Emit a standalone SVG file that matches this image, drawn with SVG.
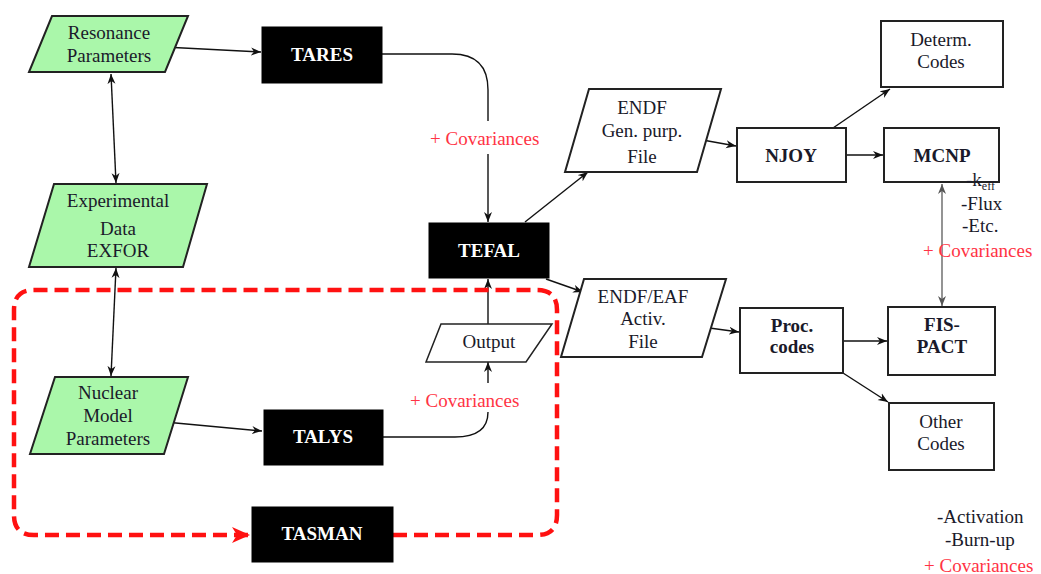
<svg xmlns="http://www.w3.org/2000/svg" width="1041" height="574" viewBox="0 0 1041 574">
<style>
text{font-family:"Liberation Serif","Times New Roman",serif;font-size:19px;fill:#1a1a2a;text-anchor:middle}
.b{font-weight:bold}
.w{fill:#fff;font-weight:bold}
.r{fill:#ff3344;text-anchor:start}
.s{text-anchor:start}
.g{fill:#aaf7aa;stroke:#222;stroke-width:2}
.p{fill:#fff;stroke:#222;stroke-width:2}
.k{fill:#000;stroke:#000}
.c{fill:none;stroke:#111;stroke-width:1.4}
</style>
<defs>
<marker id="a" markerUnits="userSpaceOnUse" markerWidth="11" markerHeight="9" refX="10" refY="4.5" orient="auto-start-reverse">
<path d="M0,0.5 L10,4.5 L0,8.5 L3,4.5 z" fill="#111"/>
</marker>
<marker id="ag" markerUnits="userSpaceOnUse" markerWidth="11" markerHeight="9" refX="10" refY="4.5" orient="auto-start-reverse">
<path d="M0,0.5 L10,4.5 L0,8.5 L3,4.5 z" fill="#555"/>
</marker>
<marker id="ar" markerUnits="userSpaceOnUse" markerWidth="20" markerHeight="16" refX="18" refY="8" orient="auto">
<path d="M0,0 L18,8 L0,16 L5,8 z" fill="#ff1111"/>
</marker>
</defs>

<g id="connectors">
<path class="c" d="M164,47 L261,52" marker-end="url(#a)"/>
<path class="c" d="M382,54 H452 Q488,54 488,90 V121"/>
<path class="c" d="M488,154 V222" marker-end="url(#a)"/>
<path class="c" d="M111,74 L116,183" marker-start="url(#a)" marker-end="url(#a)"/>
<path class="c" d="M116,268 L111,376" marker-start="url(#a)" marker-end="url(#a)"/>
<path class="c" d="M165,422 L262,431" marker-end="url(#a)"/>
<path class="c" d="M383,437 H455 Q488,437 488,412"/>
<path class="c" d="M488,383 V362" marker-end="url(#a)"/>
<path class="c" d="M488,324 V279" marker-end="url(#a)"/>
<path class="c" d="M525,222 L588,172" marker-end="url(#a)"/>
<path class="c" d="M546,279 L583,292" marker-end="url(#a)"/>
<path class="c" d="M697,139 L736,146" marker-end="url(#a)"/>
<path class="c" d="M833,128 L890,89" marker-end="url(#a)"/>
<path class="c" d="M846,155 H883" marker-end="url(#a)"/>
<path class="c" d="M942,184 V306" stroke="#666" style="stroke:#666" marker-start="url(#ag)" marker-end="url(#ag)"/>
<path class="c" d="M702,327 L739,332" marker-end="url(#a)"/>
<path class="c" d="M843,341 H887" marker-end="url(#a)"/>
<path class="c" d="M843,373 L888,402" marker-end="url(#a)"/>
<path d="M393,535 H537 Q557,535 557,515 V310 Q557,290 537,290 H34 Q14,290 14,310 V515 Q14,535 34,535 H250" fill="none" stroke="#ff1111" stroke-width="4.5" stroke-dasharray="14 7" marker-end="url(#ar)"/>
</g>

<g id="resonance">
<polygon class="g" points="52,16 188,16 165,72 29,72"/>
<text x="109" y="39">Resonance</text>
<text x="109" y="62">Parameters</text>
</g>
<g id="experimental">
<polygon class="g" points="54,184 207,184 183,267 29,267"/>
<text x="118" y="207">Experimental</text>
<text x="118" y="235">Data</text>
<text x="118" y="257">EXFOR</text>
</g>
<g id="nuclear">
<polygon class="g" points="55,377 188,377 164,454 30,454"/>
<text x="108" y="399">Nuclear</text>
<text x="108" y="422">Model</text>
<text x="108" y="445">Parameters</text>
</g>
<g id="tares">
<rect class="k" x="262" y="27" width="120" height="56"/>
<text class="w" x="322" y="61">TARES</text>
</g>
<g id="tefal">
<rect class="k" x="429" y="223" width="120" height="55"/>
<text class="w" x="489" y="257">TEFAL</text>
</g>
<g id="talys">
<rect class="k" x="264" y="410" width="119" height="55"/>
<text class="w" x="323" y="443">TALYS</text>
</g>
<g id="tasman">
<rect class="k" x="252" y="507" width="141" height="55"/>
<text class="w" x="322" y="540">TASMAN</text>
</g>
<g id="output">
<polygon class="p" points="441,324 552,324 526,362 426,362" style="stroke-width:1.5"/>
<text x="489" y="348">Output</text>
</g>
<g id="cov-labels">
<text class="r" x="430" y="145">+ Covariances</text>
<text class="r" x="410" y="407">+ Covariances</text>
</g>
<g id="endf">
<polygon class="p" points="589,89 721,89 697,172 565,172"/>
<text x="642" y="114">ENDF</text>
<text x="642" y="137">Gen. purp.</text>
<text x="642" y="163">File</text>
</g>
<g id="endfeaf">
<polygon class="p" points="584,279 726,279 702,357 561,357"/>
<text x="643" y="303">ENDF/EAF</text>
<text x="643" y="325">Activ.</text>
<text x="643" y="348">File</text>
</g>
<g id="njoy">
<rect class="p" x="737" y="128" width="109" height="54"/>
<text class="b" x="791" y="162">NJOY</text>
</g>
<g id="determ">
<rect class="p" x="881" y="21" width="122" height="66"/>
<text x="941" y="46">Determ.</text>
<text x="941" y="68">Codes</text>
</g>
<g id="mcnp">
<rect class="p" x="884" y="128" width="115" height="54"/>
<text class="b" x="942" y="162">MCNP</text>
</g>
<g id="mcnp-notes">
<text class="s" x="966" y="186">-k<tspan font-size="12" dy="4">eff</tspan></text>
<text class="s" x="961" y="210">-Flux</text>
<text class="s" x="962" y="232">-Etc.</text>
<text class="r" x="923" y="257">+ Covariances</text>
</g>
<g id="proc">
<rect class="p" x="740" y="308" width="103" height="65"/>
<text class="b" x="792" y="332">Proc.</text>
<text class="b" x="792" y="353">codes</text>
</g>
<g id="fispact">
<rect class="p" x="888" y="307" width="107" height="68"/>
<text class="b" x="942" y="331">FIS-</text>
<text class="b" x="942" y="353">PACT</text>
</g>
<g id="other">
<rect class="p" x="889" y="403" width="105" height="67"/>
<text x="941" y="428">Other</text>
<text x="941" y="450">Codes</text>
</g>
<g id="fispact-notes">
<text class="s" x="937" y="523">-Activation</text>
<text class="s" x="945" y="546">-Burn-up</text>
<text class="r" x="924" y="572">+ Covariances</text>
</g>
</svg>
